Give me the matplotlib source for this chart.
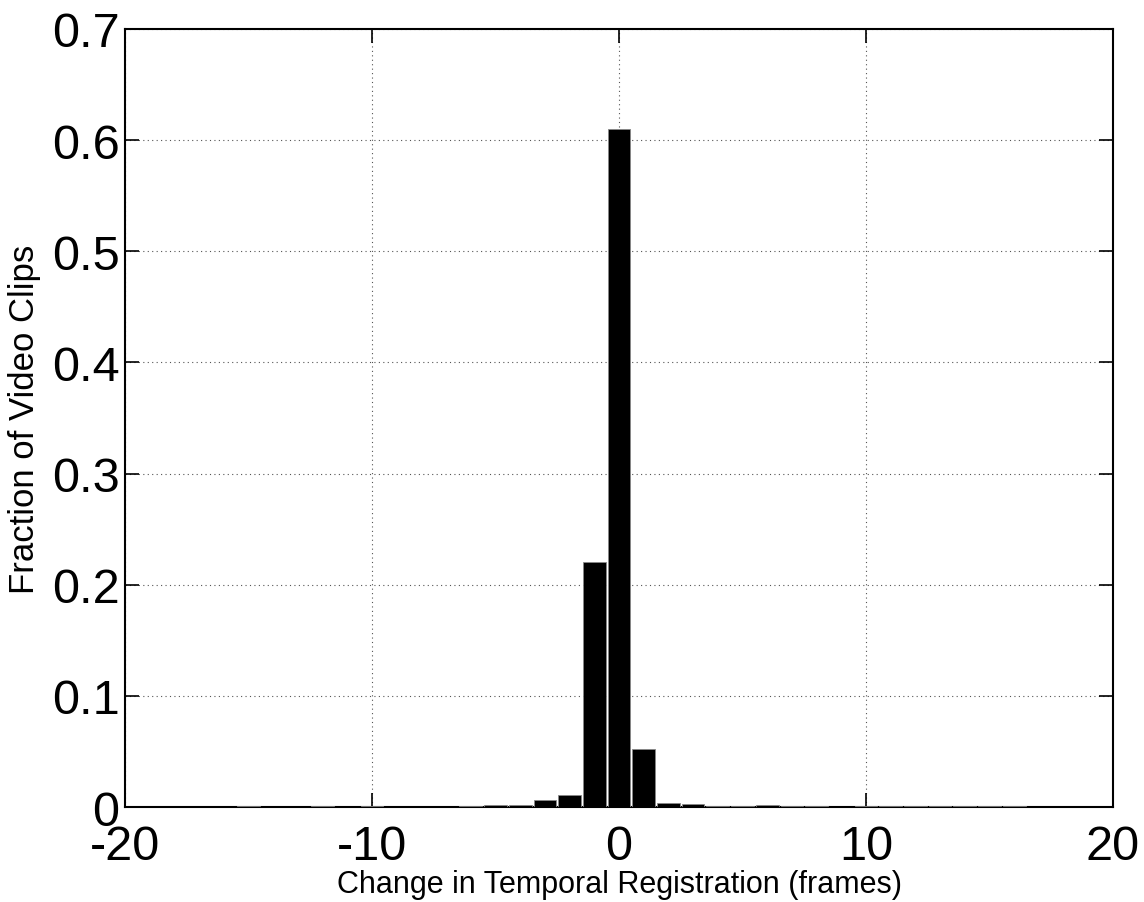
import matplotlib
matplotlib.use("Agg")
import matplotlib.pyplot as plt

# shift in frames and fraction of clips
shifts = [-15, -12, -10, -6, -5, -4, -3, -2, -1, 0, 1, 2, 3, 4, 5, 6, 7, 8, 10, 11, 12, 13, 14, 15, 16]
fractions = [0.0006, 0.0006, 0.0006, 0.0005, 0.0015, 0.0015, 0.006, 0.011, 0.22, 0.61, 0.052,
             0.0039, 0.0027, 0.0006, 0.0006, 0.0018, 0.0006, 0.0006, 0.0006, 0.0006, 0.0006,
             0.0006, 0.0006, 0.0006, 0.0006]

xticks = [-20, -10, 0, 10, 20]
yticks = [0, 0.1, 0.2, 0.3, 0.4, 0.5, 0.6, 0.7]

plt.rcParams['font.family'] = ['Liberation Sans', 'DejaVu Sans']

fig = plt.figure(figsize=(11.44, 9.03), dpi=100)
ax = fig.add_axes([0.1093, 0.1052, 0.8636, 0.8616])

ax.bar(shifts, fractions, width=0.92, color="black", edgecolor="#888888", linewidth=0.6, zorder=3)

ax.set_xlim(-20, 20)
ax.set_ylim(0, 0.7)
ax.set_xticks(xticks)
ax.set_yticks(yticks)
ax.set_xticklabels([str(t) for t in xticks])
ax.set_yticklabels(["0", "0.1", "0.2", "0.3", "0.4", "0.5", "0.6", "0.7"])
ax.grid(True, linestyle=(0, (1, 3)), color="#555555", linewidth=0.8, zorder=0)
ax.tick_params(direction="in", length=10, width=1.2, labelsize=35, top=True, right=True, pad=4)
ax.tick_params(axis="x", pad=12)
for s in ax.spines.values():
    s.set_linewidth(1.5)

ax.set_xlabel("Change in Temporal Registration (frames)", fontsize=22, labelpad=0)
ax.set_ylabel("Fraction of Video Clips", fontsize=25, labelpad=8)

fig.savefig("out.png", dpi=100)
